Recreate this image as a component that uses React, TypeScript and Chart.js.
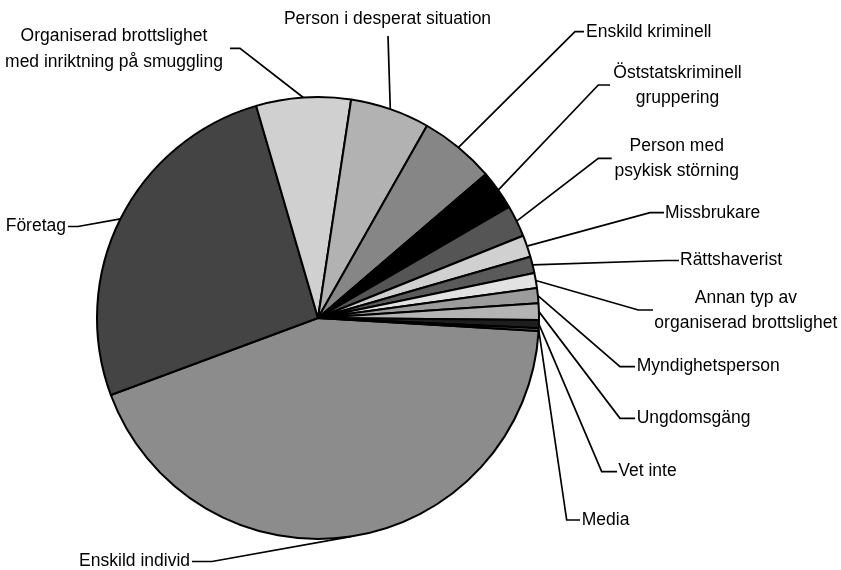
import React, { useEffect, useRef } from "react";
import { Chart, registerables } from "chart.js";

Chart.register(...registerables);

const categories = [
  "Enskild individ",
  "Företag",
  "Organiserad brottslighet med inriktning på smuggling",
  "Person i desperat situation",
  "Enskild kriminell",
  "Öststatskriminell gruppering",
  "Person med psykisk störning",
  "Missbrukare",
  "Rättshaverist",
  "Annan typ av organiserad brottslighet",
  "Myndighetsperson",
  "Ungdomsgäng",
  "Vet inte",
  "Media",
];

const labelLines = [
  ["Enskild individ"],
  ["Företag"],
  ["Organiserad brottslighet", "med inriktning på smuggling"],
  ["Person i desperat situation"],
  ["Enskild kriminell"],
  ["Öststatskriminell", "gruppering"],
  ["Person med", "psykisk störning"],
  ["Missbrukare"],
  ["Rättshaverist"],
  ["Annan typ av", "organiserad brottslighet"],
  ["Myndighetsperson"],
  ["Ungdomsgäng"],
  ["Vet inte"],
  ["Media"],
];

const values = [43.3, 26.1, 6.9, 5.8, 5.5, 2.9, 2.3, 1.6, 1.2, 1.1, 1.1, 1.2, 0.6, 0.2];

const colors = [
  "#8c8c8c",
  "#444444",
  "#d0d0d0",
  "#b2b2b2",
  "#868686",
  "#000000",
  "#555555",
  "#d0d0d0",
  "#5a5a5a",
  "#e2e2e2",
  "#9c9c9c",
  "#b4b4b4",
  "#1e1e1e",
  "#6a6a6a",
];

// label placement: text anchor (x, first-line y), alignment, leader elbow and end
type Layout = { x: number; y: number; align: CanvasTextAlign; elbow: [number, number]; end: [number, number] };
const labelLayout: Layout[] = [
  { x: 190, y: 561.5, align: "right", elbow: [212, 561.5], end: [192, 561.5] },
  { x: 66, y: 226.5, align: "right", elbow: [78, 226.5], end: [68, 226.5] },
  { x: 114, y: 36.5, align: "center", elbow: [240, 48.3], end: [230, 48.3] },
  { x: 387.5, y: 19.5, align: "center", elbow: [388, 36], end: [388, 36] },
  { x: 586, y: 32.5, align: "left", elbow: [575, 31.7], end: [584, 31.7] },
  { x: 677.5, y: 73, align: "center", elbow: [598.3, 85], end: [610, 85] },
  { x: 676.7, y: 146, align: "center", elbow: [598.3, 158.3], end: [611.7, 158.3] },
  { x: 665, y: 213, align: "left", elbow: [650, 212.7], end: [664, 212.7] },
  { x: 680, y: 260, align: "left", elbow: [666, 260.5], end: [679, 260.5] },
  { x: 745.8, y: 298, align: "center", elbow: [638.3, 310], end: [653, 310] },
  { x: 636.7, y: 366.5, align: "left", elbow: [620, 366.7], end: [635, 366.7] },
  { x: 636.7, y: 418.3, align: "left", elbow: [620, 418.3], end: [635, 418.3] },
  { x: 618.3, y: 471.5, align: "left", elbow: [601.7, 471.7], end: [617, 471.7] },
  { x: 581.7, y: 520, align: "left", elbow: [566.7, 520], end: [580, 520] },
];

const lineGap = 25.5;
const FONT = '17.5px "Liberation Sans", Arial, sans-serif';

const leaderPlugin = {
  id: "leaderLabels",
  afterDatasetsDraw(chart: any) {
    const ctx = chart.ctx as CanvasRenderingContext2D;
    const meta = chart.getDatasetMeta(0);
    ctx.save();
    ctx.strokeStyle = "#000";
    ctx.lineWidth = 1.7;
    ctx.fillStyle = "#000";
    ctx.font = FONT;
    ctx.textBaseline = "middle";
    meta.data.forEach((arc: any, i: number) => {
      const p = arc.getProps(["x", "y", "startAngle", "endAngle", "outerRadius"], true);
      const mid = (p.startAngle + p.endAngle) / 2;
      const sx = p.x + Math.cos(mid) * p.outerRadius;
      const sy = p.y + Math.sin(mid) * p.outerRadius;
      const lay = labelLayout[i];
      ctx.beginPath();
      ctx.moveTo(sx, sy);
      ctx.lineTo(lay.elbow[0], lay.elbow[1]);
      ctx.lineTo(lay.end[0], lay.end[1]);
      ctx.stroke();
      ctx.textAlign = lay.align;
      labelLines[i].forEach((line, k) => {
        ctx.fillText(line, lay.x, lay.y + k * lineGap);
      });
    });
    ctx.restore();
  },
};

export default function App() {
  const ref = useRef<HTMLCanvasElement>(null);
  useEffect(() => {
    if (!ref.current) return;
    const chart = new Chart(ref.current, {
      type: "pie",
      data: {
        labels: categories,
        datasets: [
          {
            data: values,
            backgroundColor: colors,
            borderColor: "#000",
            borderWidth: 2,
          },
        ],
      },
      options: {
        responsive: false,
        animation: false,
        rotation: 93.4,
        layout: { padding: { left: 96, right: 301, top: 96, bottom: 30 } },
        plugins: {
          legend: { display: false },
          tooltip: { enabled: false },
        },
      },
      plugins: [leaderPlugin],
    });
    return () => chart.destroy();
  }, []);
  return (
    <div style={{ position: "absolute", left: 0, top: 0, width: 841, height: 570, background: "#fff" }}>
      <canvas ref={ref} width={841} height={570} style={{ display: "block" }} />
    </div>
  );
}
